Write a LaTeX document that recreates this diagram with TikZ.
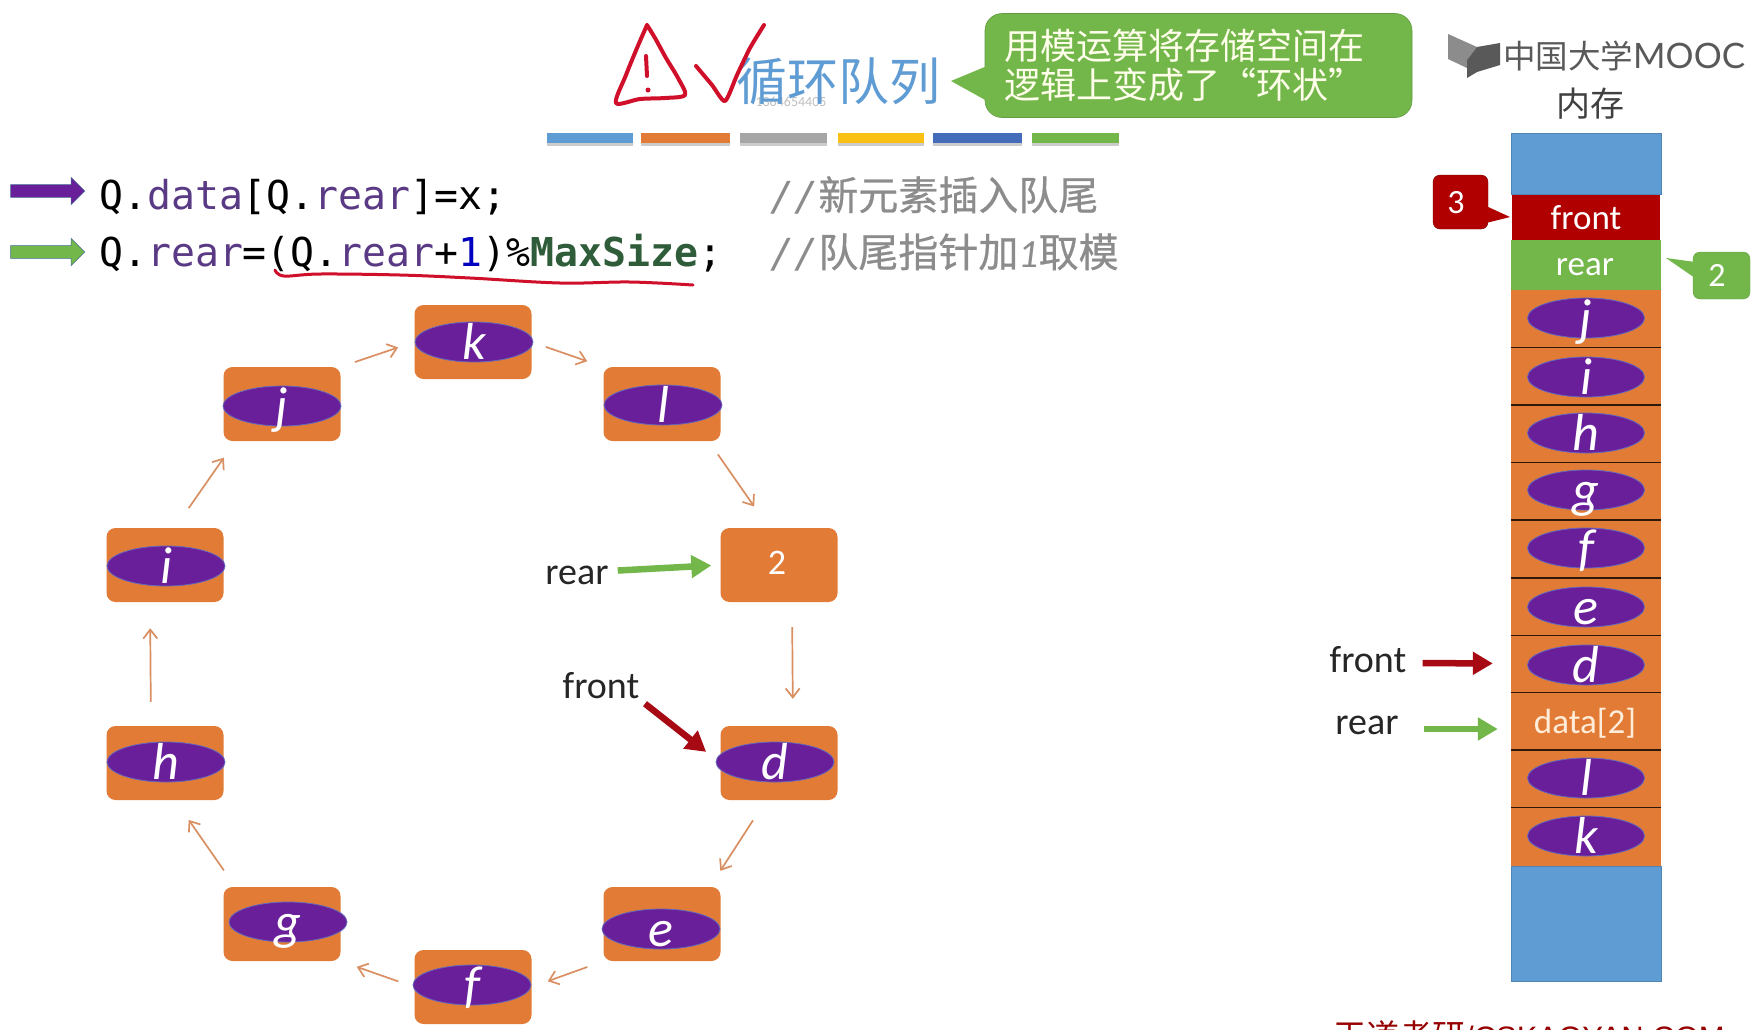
\documentclass[tikz,border=0pt]{standalone}
\usepackage{fontspec}
\usepackage{xcolor}
\usetikzlibrary{shapes.geometric,shapes.arrows,arrows.meta}
\setmainfont{Carlito}
\setmonofont{DejaVu Sans Mono}
\newfontfamily\cjk{Noto Sans CJK SC}
\newfontfamily\cjkheavy[FakeBold=0.6]{Noto Sans CJK SC}
\newfontfamily\logofont{Lato}
\newfontfamily\sitefont{Liberation Sans}
\definecolor{qorange}{HTML}{E27B36}
\definecolor{qpurple}{HTML}{6A1F9A}
\definecolor{qblue}{HTML}{5F9CD3}
\definecolor{qgreen}{HTML}{73B74B}
\definecolor{qred}{HTML}{B00000}
\definecolor{inkred}{HTML}{D0102A}
\definecolor{codepurple}{HTML}{5A3A85}
\definecolor{codegreen}{HTML}{2F5D3A}
\definecolor{ringline}{HTML}{D98F62}
\definecolor{fatred}{HTML}{A80A14}
\tikzset{
  ringbox/.style={draw=none,fill=qorange,rounded corners=9pt,minimum width=117pt,minimum height=74pt,inner sep=0pt},
  oval/.style={ellipse,draw=qblue!60!qpurple,line width=0.8pt,fill=qpurple,minimum width=118pt,minimum height=40pt,inner sep=0pt},
  letter/.style={anchor=base,yshift=-17pt,inner sep=0pt,text=white,font=\fontsize{52}{52}\selectfont\itshape},
  ringarrow/.style={color=ringline,line width=1.7pt,-{Straight Barb[length=9pt,width=14pt]}},
  fatarrow/.style={line width=6.5pt,-{Triangle[length=20pt,width=22pt]}},
  memcell/.style={fill=qorange,minimum width=150pt,minimum height=57.6pt,inner sep=0pt},
  memtext/.style={inner sep=0pt,font=\fontsize{35}{35}\selectfont},
  blacktext/.style={inner sep=0pt,text=black!85,font=\fontsize{38}{38}\selectfont},
  blockmark/.style={single arrow,draw=qblue!70!black,line width=0.6pt,inner sep=6pt,minimum height=74pt,minimum width=27pt,single arrow head extend=7pt,single arrow head indent=0pt},
  codeline/.style={anchor=base west,inner sep=0pt,font=\ttfamily\fontsize{39.8}{39.8}\selectfont},
  commentline/.style={anchor=base west,inner sep=0pt,text=black!45,font=\fontsize{40}{40}\selectfont},
  sidetag/.style={rounded corners=7pt,inner sep=0pt},
  tagtext/.style={inner sep=0pt,text=white,font=\fontsize{34}{34}\selectfont},
  inkline/.style={color=inkred,line width=4pt,line cap=round,line join=round},
}
\begin{document}
\begin{tikzpicture}[x=1pt,y=-1pt]
      \useasboundingbox (0,0) rectangle (1755,1029);
      \fill [white] (0,0) rectangle (1755,1029);

      \node [text=black!25,inner sep=0pt,font=\fontsize{14}{14}\selectfont] (stamp) at (791,102) {1364654405};
      \node [text=qblue,inner sep=0pt,font=\cjk\fontsize{51}{51}\selectfont] (title) at (838,81) {循环队列};

      \draw [inkline] plot [smooth,tension=0.5] coordinates {(647,25) (637,48) (626,75) (616,103) (640,99) (665,98) (685,95) (678,78) (666,58) (655,38) (647,25)};
      \draw [inkline] (646,56) -- (647,76);
      \fill [inkred] (648,90) circle (2.5pt);
      \draw [inkline] plot [smooth,tension=0.4] coordinates {(696,66) (712,85) (725,101) (737,75) (750,48) (764,25)};

      \node [fill=qgreen,draw=qgreen!85!black,line width=0.6pt,rounded corners=17pt,minimum height=104pt,text width=389pt,inner xsep=19pt,align=left,text=white!92!yellow,font=\cjk\fontsize{36}{39}\selectfont] (note) at (1198.5,65.5) {用模运算将存储空间在\\逻辑上变成了“环状”};
      \fill [qgreen] (951,81) -- (987,66) -- (987,101) -- cycle;

      \fill [black!20] (547,137) rectangle (633,146);
      \fill [black!20] (641,137) rectangle (730,146);
      \fill [black!20] (740,137) rectangle (827,146);
      \fill [black!20] (838,137) rectangle (924,146);
      \fill [black!20] (933,137) rectangle (1022,146);
      \fill [black!20] (1032,137) rectangle (1119,146);
      \fill [color=qblue] (547,133) rectangle (633,143);
      \fill [color=qorange] (641,133) rectangle (730,143);
      \fill [color=black!35] (740,133) rectangle (827,143);
      \fill [color={rgb,255:red,250;green,192;blue,20}] (838,133) rectangle (924,143);
      \fill [color={rgb,255:red,68;green,108;blue,186}] (933,133) rectangle (1022,143);
      \fill [color=qgreen] (1032,133) rectangle (1119,143);

      \node [blockmark,fill=qpurple] (markdata) at (44.5,191) {};
      \node [blockmark,fill=qgreen] (markrear) at (44.5,252) {};
      \node [codeline] (codedata) at (99,209) {Q.\textcolor{codepurple}{data}[Q.\textcolor{codepurple}{rear}]=x;};
      \node [codeline] (coderear) at (99,266) {Q.\textcolor{codepurple}{rear}=(Q.\textcolor{codepurple}{rear}+\textcolor{blue!75!black}{1})\%\textcolor{codegreen}{\bfseries MaxSize};};
      \node [commentline] (notedata) at (770,210) {\ttfamily\itshape//\normalfont\cjkheavy 新元素插入队尾};
      \node [commentline] (noterear) at (770,267) {\ttfamily\itshape//\normalfont\cjkheavy 队尾指针加\normalfont\itshape 1\normalfont\cjkheavy 取模};
      \draw [color=inkred,line width=3pt,line cap=round] plot [smooth,tension=0.6] coordinates {(275,270) (284,276) (320,274) (400,275) (470,278) (560,283) (630,282) (693,285)};

      \node [ringbox] (boxk) at (473,342) {};
      \node [ringbox] (boxl) at (662,404) {};
      \node [ringbox] (boxtwo) at (779,565) {};
      \node [ringbox] (boxd) at (779,763) {};
      \node [ringbox] (boxe) at (662,924) {};
      \node [ringbox] (boxf) at (473,987) {};
      \node [ringbox] (boxg) at (282,924) {};
      \node [ringbox] (boxh) at (165,763) {};
      \node [ringbox] (boxi) at (165,565) {};
      \node [ringbox] (boxj) at (282,404) {};

      \node [oval] (ovalk) at (474,342) {};
      \node [oval] (ovall) at (663,405) {};
      \node [oval] (ovald) at (775,762) {};
      \node [oval] (ovale) at (661,929) {};
      \node [oval] (ovalf) at (472,985) {};
      \node [oval] (ovalg) at (288,922) {};
      \node [oval] (ovalh) at (166,762) {};
      \node [oval] (ovali) at (166,566) {};
      \node [oval] (ovalj) at (282,406) {};

      \node [letter] (textk) at (ovalk) {k};
      \node [letter] (textl) at (ovall) {l};
      \node [inner sep=0pt,text=white,font=\fontsize{36}{36}\selectfont] (texttwo) at (777,563) {2};
      \node [letter] (textd) at (ovald) {d};
      \node [letter] (texte) at (ovale) {e};
      \node [letter] (textf) at (ovalf) {f};
      \node [letter] (textg) at (ovalg) {g};
      \node [letter] (texth) at (ovalh) {h};
      \node [letter] (texti) at (ovali) {i};
      \node [letter] (textj) at (ovalj) {j};

      \draw [ringarrow,shorten <=15pt,shorten >=17pt] (boxj.north east) -- (boxk.west);
      \draw [ringarrow,shorten <=15pt,shorten >=17pt] (boxk.east) -- (boxl.north west);
      \draw [ringarrow,shorten <=16pt,shorten >=26pt] ([xshift=-12pt]boxl.south east) -- ([xshift=-10pt]boxtwo.north);
      \draw [ringarrow,shorten <=25pt,shorten >=27pt] ([xshift=13pt]boxtwo.south) -- ([xshift=14pt]boxd.north);
      \draw [ringarrow,shorten <=24pt,shorten >=19pt] ([xshift=-13pt]boxd.south) -- ([xshift=48pt]boxe.north);
      \draw [ringarrow,shorten <=17pt,shorten >=17pt] (boxe.south west) -- (boxf.east);
      \draw [ringarrow,shorten <=17pt,shorten >=17pt] (boxf.west) -- (boxg.south east);
      \draw [ringarrow,shorten <=20pt,shorten >=24pt] ([xshift=12pt]boxg.north west) -- ([xshift=10pt]boxh.south);
      \draw [ringarrow,shorten <=24pt,shorten >=26pt] ([xshift=-14pt]boxh.north) -- ([xshift=-15pt]boxi.south);
      \draw [ringarrow,shorten <=24pt,shorten >=20pt] ([xshift=10pt]boxi.north) -- ([xshift=12pt]boxj.south west);

      \node [blacktext] (ringrear) at (577,575) {rear};
      \node [blacktext] (ringfront) at (601,686) {front};
      \draw [fatarrow,color=qgreen,shorten <=9pt,shorten >=9pt] ([yshift=4pt]ringrear.east) -- (boxtwo.west);
      \draw [fatarrow,color=fatred,shorten <=7pt,shorten >=18pt] (ringfront.south east) -- (boxd.west);

      \node [text=black!65,inner sep=0pt,font=\cjk\fontsize{32.5}{33}\selectfont,anchor=west] (logotext) at (1503,56) {中国大学{\logofont\fontsize{35}{33}\selectfont MOOC}};
      \fill [color=black!45] (1448,34) -- (1477,47) -- (1467,60) -- (1467,78) -- (1467,68) -- (1448,59) -- cycle;
      \fill [color=black!65] (1467,60) -- (1477,47) -- (1500,43) -- (1500,65) -- (1477,72) -- (1467,78) -- cycle;
      \node [text=black!75,inner sep=0pt,font=\cjk\fontsize{34}{34}\selectfont] (memtitle) at (1590,104) {内存};

      \node [memcell,fill=qblue,draw=qblue!85!black,minimum height=61pt] (memtop) at (1586,163.5) {};
      \node [memcell,fill=qred,minimum width=148pt,minimum height=45pt,text=white,memtext] (memfront) at (1586,217.5) {front};
      \node [memcell,fill=qgreen,minimum height=50pt] (memrear) at (1586,265) {};
      \node [text=white,memtext] (memreartext) at (1585,267) {rear};
      \node [memcell] (cellj) at (1586,318.5) {};
      \node [memcell] (celli) at (1586,376) {};
      \node [memcell] (cellh) at (1586,433.5) {};
      \node [memcell] (cellg) at (1586,491) {};
      \node [memcell] (cellf) at (1586,549) {};
      \node [memcell] (celle) at (1586,606.5) {};
      \node [memcell] (celld) at (1586,663.5) {};
      \node [memcell] (celldata) at (1586,721) {};
      \node [text=orange!15,memtext] (celldatatext) at (1585,723) {data[2]};
      \node [memcell] (celll) at (1586,778.5) {};
      \node [memcell] (cellk) at (1586,837) {};
      \node [memcell,fill=qblue,draw=qblue!85!black,minimum height=115pt] (membottom) at (1586,923.5) {};

      \draw [color=black!80!qorange,line width=1.8pt] (cellj.south west) -- (cellj.south east);
      \draw [color=black!80!qorange,line width=1.8pt] (celli.south west) -- (celli.south east);
      \draw [color=black!80!qorange,line width=1.8pt] (cellh.south west) -- (cellh.south east);
      \draw [color=black!80!qorange,line width=1.8pt] (cellg.south west) -- (cellg.south east);
      \draw [color=black!80!qorange,line width=1.8pt] (cellf.south west) -- (cellf.south east);
      \draw [color=black!80!qorange,line width=1.8pt] (celle.south west) -- (celle.south east);
      \draw [color=black!80!qorange,line width=1.8pt] (celld.south west) -- (celld.south east);
      \draw [color=black!80!qorange,line width=1.8pt] (celldata.south west) -- (celldata.south east);
      \draw [color=black!80!qorange,line width=1.8pt] (celll.south west) -- (celll.south east);

      \node [oval,minimum width=117pt] (memovalj) at (1586,318) {};
      \node [oval,minimum width=117pt] (memovali) at (1586,377) {};
      \node [oval,minimum width=117pt] (memovalh) at (1586,433) {};
      \node [oval,minimum width=117pt] (memovalg) at (1586,490) {};
      \node [oval,minimum width=117pt] (memovalf) at (1586,548) {};
      \node [oval,minimum width=117pt] (memovale) at (1586,607) {};
      \node [oval,minimum width=117pt] (memovald) at (1586,665) {};
      \node [oval,minimum width=117pt] (memovall) at (1586,778) {};
      \node [oval,minimum width=117pt] (memovalk) at (1586,836) {};

      \node [letter] (memtextj) at (memovalj) {j};
      \node [letter] (memtexti) at (memovali) {i};
      \node [letter] (memtexth) at (memovalh) {h};
      \node [letter] (memtextg) at (memovalg) {g};
      \node [letter] (memtextf) at (memovalf) {f};
      \node [letter] (memtexte) at (memovale) {e};
      \node [letter] (memtextd) at (memovald) {d};
      \node [letter] (memtextl) at (memovall) {l};
      \node [letter] (memtextk) at (memovalk) {k};

      \node [sidetag,fill=qred,draw=qred!70!black,minimum width=55pt,minimum height=54pt] (tagfront) at (1460.5,202) {};
      \node [tagtext] (tagfronttext) at (1456,203) {3};
      \fill [qred] (1510,217) -- (1486,206) -- (1486,223) -- cycle;
      \node [sidetag,fill=qgreen,draw=qgreen!85!black,minimum width=57pt,minimum height=47pt] (tagrear) at (1721.5,275.5) {};
      \node [tagtext] (tagreartext) at (1717,275) {2};
      \fill [qgreen] (1666,258) -- (1695,262) -- (1695,278) -- cycle;

      \node [blacktext] (memlabelfront) at (1368,660) {front};
      \node [blacktext] (memlabelrear) at (1367,725) {rear};
      \draw [fatarrow,color=fatred,shorten <=16pt,shorten >=18pt] ([yshift=-3pt]memlabelfront.east) -- (celld.west);
      \draw [fatarrow,color=qgreen,shorten <=25pt,shorten >=13pt] ([yshift=-4pt]memlabelrear.east) -- ([yshift=-8pt]celldata.west);

      \node [anchor=north west,inner sep=0pt,text=qred!85!black,font=\sitefont\fontsize{31}{31}\selectfont] (site) at (1333,1020) {{\cjk\fontsize{33}{33}\selectfont 王道考研}/CSKAOYAN.COM};
\end{tikzpicture}
\end{document}
